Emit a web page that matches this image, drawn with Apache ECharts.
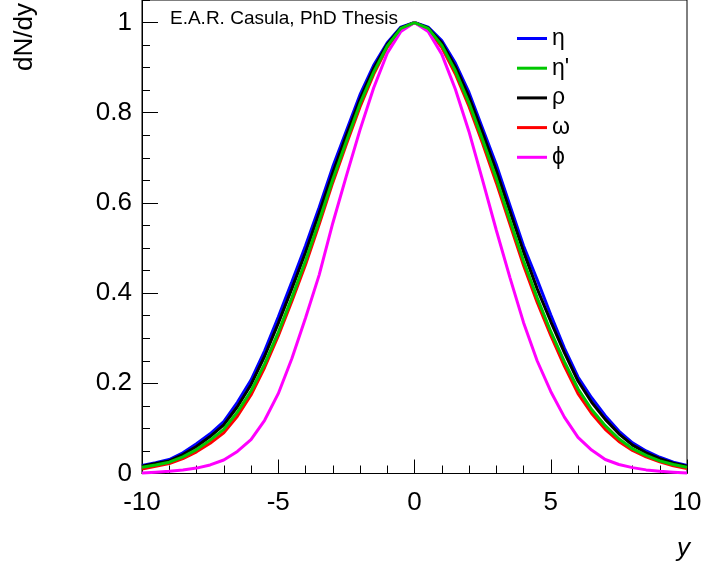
<!DOCTYPE html>
<html>
<head>
<meta charset="utf-8">
<script src="https://cdn.jsdelivr.net/npm/echarts@6/dist/echarts.min.js"></script>
<style>html,body{margin:0;padding:0;background:#fff;}#c{width:705px;height:567px;}</style>
</head>
<body>
<div id="c"></div>
<script>
var rapidity = [-10,-9.5,-9,-8.5,-8,-7.5,-7,-6.5,-6,-5.5,-5,-4.5,-4,-3.5,-3,-2.5,-2,-1.5,-1,-0.5,0,0.5,1,1.5,2,2.5,3,3.5,4,4.5,5,5.5,6,6.5,7,7.5,8,8.5,9,9.5,10];
var seriesNames = ['η', "η'", 'ρ', 'ω', 'ϕ'];
var etaVals = [0.018,0.024,0.031,0.046,0.066,0.088,0.115,0.158,0.207,0.272,0.347,0.425,0.505,0.59,0.68,0.76,0.84,0.905,0.955,0.99,1.0,0.99,0.96,0.91,0.845,0.765,0.685,0.595,0.505,0.43,0.352,0.278,0.214,0.168,0.128,0.094,0.068,0.05,0.036,0.025,0.018];
var etaPrimeVals = [0.014,0.019,0.025,0.037,0.053,0.074,0.098,0.136,0.183,0.243,0.313,0.39,0.472,0.56,0.652,0.737,0.82,0.89,0.948,0.987,1.0,0.987,0.95,0.893,0.822,0.74,0.655,0.562,0.472,0.39,0.315,0.248,0.188,0.142,0.106,0.077,0.055,0.04,0.028,0.02,0.014];
var rhoVals = [0.016,0.022,0.028,0.042,0.06,0.082,0.108,0.148,0.197,0.26,0.333,0.41,0.49,0.577,0.667,0.75,0.83,0.898,0.952,0.988,1.0,0.988,0.955,0.902,0.835,0.755,0.672,0.582,0.492,0.41,0.337,0.268,0.205,0.158,0.12,0.088,0.063,0.046,0.033,0.023,0.016];
var omegaVals = [0.01,0.016,0.022,0.033,0.048,0.067,0.09,0.127,0.174,0.235,0.305,0.382,0.463,0.552,0.645,0.73,0.813,0.885,0.945,0.985,1.0,0.985,0.945,0.886,0.814,0.732,0.645,0.553,0.462,0.38,0.306,0.238,0.177,0.133,0.098,0.071,0.051,0.037,0.026,0.017,0.011];
var phiVals = [0.001,0.003,0.005,0.008,0.012,0.019,0.03,0.049,0.075,0.118,0.177,0.255,0.345,0.44,0.555,0.66,0.762,0.855,0.932,0.98,1.0,0.98,0.93,0.852,0.758,0.65,0.54,0.435,0.335,0.25,0.182,0.125,0.08,0.052,0.031,0.02,0.013,0.008,0.005,0.003,0.001];
var xTickLabels = ['-10','-5','0','5','10'];
var yTickLabels = ['0','0.2','0.4','0.6','0.8','1'];

var colors = ['#0000ff', '#00c800', '#000000', '#ff0000', '#ff00ff'];
var allVals = [etaVals, etaPrimeVals, rhoVals, omegaVals, phiVals];
var zOrder = [3, 7, 4, 5, 6];

function pairs(vals) {
  return rapidity.map(function (x, i) { return [x, vals[i]]; });
}

var FONT = 'Liberation Sans, Arial, sans-serif';
var chart = echarts.init(document.getElementById('c'), null, {renderer: 'canvas'});
var series = seriesNames.map(function (n, i) {
  return {
    name: n, type: 'line', data: pairs(allVals[i]), showSymbol: false, symbol: 'none',
    lineStyle: {width: 3, color: colors[i]}, itemStyle: {color: colors[i]},
    z: zOrder[i], animation: false, xAxisIndex: 0, yAxisIndex: 0
  };
});

chart.setOption({
  animation: false,
  backgroundColor: '#fff',
  grid: {left: 142, right: 18, top: 0, height: 473.5, show: true, borderColor: '#000', borderWidth: 1, containLabel: false},
  xAxis: [{
    type: 'value', min: -10, max: 10, interval: 5,
    axisLine: {show: true, onZero: false, lineStyle: {color: '#000', width: 1}},
    axisTick: {show: true, inside: true, length: 14, lineStyle: {color: '#000'}},
    minorTick: {show: true, splitNumber: 5, length: 8, lineStyle: {color: '#000'}},
    splitLine: {show: false}, minorSplitLine: {show: false},
    axisLabel: {fontSize: 26, color: '#000', fontFamily: FONT, margin: 16,
      formatter: function (v) { var s = String(v); return xTickLabels.indexOf(s) >= 0 ? s : ''; }}
  }],
  yAxis: [{
    type: 'value', min: 0, max: 1.05, interval: 0.2, position: 'left',
    axisLine: {show: true, onZero: false, lineStyle: {color: '#000', width: 1}},
    axisTick: {show: true, inside: true, length: 16, lineStyle: {color: '#000'}},
    splitLine: {show: false},
    axisLabel: {fontSize: 26, color: '#000', fontFamily: FONT, margin: 10, showMaxLabel: false,
      formatter: function (v) { var s = String(Math.round(v * 10) / 10); return yTickLabels.indexOf(s) >= 0 ? s : ''; }}
  }, {
    type: 'value', min: 0, max: 1.05, interval: 0.05, position: 'left', gridIndex: 0,
    axisLine: {show: false, onZero: false},
    axisTick: {show: true, inside: true, length: 8, lineStyle: {color: '#000'}},
    splitLine: {show: false},
    axisLabel: {show: false}
  }],
  legend: {
    orient: 'vertical', left: 512, top: 22, itemWidth: 30, itemHeight: 3, icon: 'rect',
    itemGap: 6.7, data: seriesNames,
    textStyle: {fontSize: 23, color: '#000', fontFamily: FONT, lineHeight: 20}
  },
  graphic: [
    {type: 'text', left: 170, top: 9, z: 10, style: {text: 'E.A.R. Casula, PhD Thesis', font: '19px ' + FONT, fill: '#000'}},
    {type: 'text', x: 25, y: 3, rotation: Math.PI / 2, z: 10,
      style: {text: 'dN/dy', font: '26px ' + FONT, fill: '#000', align: 'right', verticalAlign: 'middle'}},
    {type: 'text', x: 690, y: 549, z: 10,
      style: {text: 'y', font: 'italic 26px ' + FONT, fill: '#000', align: 'right', verticalAlign: 'middle'}}
  ],
  series: series
});
</script>
</body>
</html>
